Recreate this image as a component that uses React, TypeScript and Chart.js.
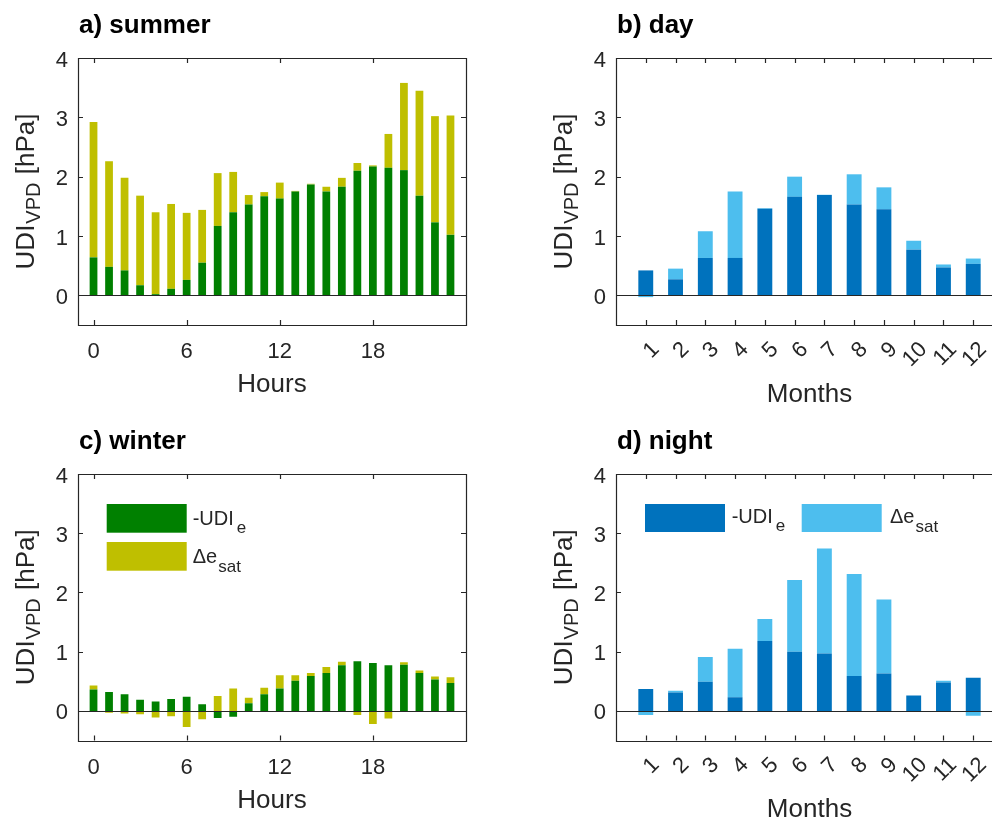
import React, { useEffect, useRef } from 'react';
import { Chart, registerables } from 'chart.js';

Chart.register(...registerables);

// ---------- data ----------
const hours = [0, 1, 2, 3, 4, 5, 6, 7, 8, 9, 10, 11, 12, 13, 14, 15, 16, 17, 18, 19, 20, 21, 22, 23];
const months = [1, 2, 3, 4, 5, 6, 7, 8, 9, 10, 11, 12];

const summerUDIe = [0.64, 0.48, 0.42, 0.17, 0.02, 0.11, 0.26, 0.55, 1.17, 1.40, 1.53, 1.67, 1.63, 1.75, 1.87, 1.75, 1.83, 2.10, 2.17, 2.15, 2.11, 1.68, 1.23, 1.02];
const summerDesat = [2.28, 1.78, 1.56, 1.51, 1.38, 1.43, 1.13, 0.89, 0.89, 0.68, 0.16, 0.07, 0.27, 0.01, 0.01, 0.08, 0.15, 0.13, 0.02, 0.57, 1.47, 1.77, 1.79, 2.01];

const winterUDIe = [0.36, 0.32, 0.28, 0.19, 0.16, 0.20, 0.24, 0.11, -0.12, -0.10, 0.13, 0.28, 0.38, 0.51, 0.59, 0.64, 0.77, 0.84, 0.81, 0.77, 0.78, 0.64, 0.53, 0.47];
const winterDesat = [0.07, -0.03, -0.045, -0.055, -0.11, -0.09, -0.27, -0.14, 0.25, 0.38, 0.09, 0.11, 0.22, 0.09, 0.05, 0.10, 0.06, -0.07, -0.22, -0.13, 0.04, 0.04, 0.05, 0.10];

const dayUDIe = [0.42, 0.27, 0.63, 0.63, 1.46, 1.66, 1.69, 1.53, 1.45, 0.77, 0.47, 0.53];
const dayDesat = [-0.03, 0.18, 0.45, 1.12, 0.01, 0.34, 0.005, 0.51, 0.37, 0.15, 0.05, 0.09];

const nightUDIe = [0.37, 0.31, 0.49, 0.23, 1.18, 1.00, 0.97, 0.59, 0.63, 0.26, 0.48, 0.56];
const nightDesat = [-0.07, 0.03, 0.42, 0.82, 0.37, 1.21, 1.77, 1.72, 1.25, 0.0, 0.03, -0.08];

const yTicks = [0, 1, 2, 3, 4];
const hourTicks = [0, 6, 12, 18];
const monthTicks = months;

// ---------- styling ----------
const FONT = "'Liberation Sans', Arial, Helvetica, sans-serif";
const AXIS = '#262626';
const GREEN = '#008000';
const OLIVE = '#bfbf00';
const DBLUE = '#0072bd';
const LBLUE = '#4dbeee';

type PanelCfg = {
  title: string;
  xs: number[];
  a: number[];
  b: number[];
  xMin: number;
  xMax: number;
  xTicks: number[];
  xTitle: string;
  rotated: boolean;
  c1: string;
  c2: string;
  legend: 'none' | 'vertical' | 'horizontal';
  pad: { left: number; right: number; top: number; bottom: number };
  w: number;
  h: number;
  pos: { left: number; top: number };
};

function drawSubText(ctx: CanvasRenderingContext2D, x: number, y: number, main: string, sub: string, mainSize: number, subSize: number, gap: number, subDrop: number) {
  ctx.font = `${mainSize}px ${FONT}`;
  ctx.textAlign = 'left';
  ctx.textBaseline = 'alphabetic';
  ctx.fillText(main, x, y);
  const w = ctx.measureText(main).width;
  ctx.font = `${subSize}px ${FONT}`;
  ctx.fillText(sub, x + w + gap, y + subDrop);
}

const panelPlugin = {
  id: 'panelDecor',
  afterDatasetsDraw(chart: any) {
    const cfg: PanelCfg = chart.options.plugins.panelDecor.cfg;
    const { ctx, chartArea: ca } = chart;
    const xs = chart.scales.x;
    const ys = chart.scales.y;
    ctx.save();
    ctx.strokeStyle = AXIS;
    ctx.fillStyle = AXIS;
    ctx.lineWidth = 1.2;

    // zero line
    const y0 = Math.round(ys.getPixelForValue(0)) + 0.5;
    ctx.beginPath();
    ctx.moveTo(ca.left, y0);
    ctx.lineTo(ca.right, y0);
    ctx.stroke();

    // box
    ctx.beginPath();
    ctx.rect(Math.round(ca.left) + 0.5, Math.round(ca.top) + 0.5, Math.round(ca.right - ca.left), Math.round(ca.bottom - ca.top));
    ctx.stroke();

    // inward ticks
    const tl = 5;
    ctx.beginPath();
    for (const t of yTicks) {
      const py = Math.round(ys.getPixelForValue(t)) + 0.5;
      ctx.moveTo(ca.left, py);
      ctx.lineTo(ca.left + tl, py);
      ctx.moveTo(ca.right, py);
      ctx.lineTo(ca.right - tl, py);
    }
    for (const t of cfg.xTicks) {
      const px = Math.round(xs.getPixelForValue(t)) + 0.5;
      ctx.moveTo(px, ca.top);
      ctx.lineTo(px, ca.top + tl);
      ctx.moveTo(px, ca.bottom);
      ctx.lineTo(px, ca.bottom - tl);
    }
    ctx.stroke();

    // y tick labels
    ctx.font = `22px ${FONT}`;
    ctx.textAlign = 'right';
    ctx.textBaseline = 'alphabetic';
    for (const t of yTicks) {
      const py = ys.getPixelForValue(t);
      ctx.fillText(String(t), ca.left - 10, py + 8.5);
    }

    // x tick labels
    for (const t of cfg.xTicks) {
      const px = xs.getPixelForValue(t);
      if (cfg.rotated) {
        ctx.save();
        ctx.translate(px + 10, ca.bottom + 21);
        ctx.rotate(-Math.PI / 4);
        ctx.textAlign = 'right';
        ctx.textBaseline = 'middle';
        ctx.fillText(String(t), 0, 0);
        ctx.restore();
      } else {
        ctx.textAlign = 'center';
        ctx.fillText(String(t), px, ca.bottom + 33);
      }
    }

    // x title
    ctx.font = `26px ${FONT}`;
    ctx.textAlign = 'center';
    ctx.fillText(cfg.xTitle, (ca.left + ca.right) / 2, ca.bottom + (cfg.rotated ? 76.5 : 67));

    // y title (rotated, with subscript)
    ctx.save();
    ctx.translate(ca.left - 44, (ca.top + ca.bottom) / 2);
    ctx.rotate(-Math.PI / 2);
    ctx.textBaseline = 'alphabetic';
    ctx.textAlign = 'left';
    ctx.font = `26px ${FONT}`;
    const w1 = ctx.measureText('UDI').width;
    const w3 = ctx.measureText(' [hPa]').width;
    ctx.font = `20px ${FONT}`;
    const w2 = ctx.measureText('VPD').width;
    const total = w1 + w2 + w3 + 2;
    let sx = -total / 2;
    ctx.font = `26px ${FONT}`;
    ctx.fillText('UDI', sx, 0);
    sx += w1 + 1;
    ctx.font = `20px ${FONT}`;
    ctx.fillText('VPD', sx, 6);
    sx += w2 + 1;
    ctx.font = `26px ${FONT}`;
    ctx.fillText(' [hPa]', sx, 0);
    ctx.restore();

    // panel title
    ctx.fillStyle = '#000000';
    ctx.font = `bold 26px ${FONT}`;
    ctx.textAlign = 'left';
    ctx.fillText(cfg.title, ca.left + 1, ca.top - 25);

    // legend
    ctx.fillStyle = AXIS;
    if (cfg.legend === 'vertical') {
      const lx = ca.left + 28.7;
      const ly = ca.top + 30;
      ctx.fillStyle = cfg.c1;
      ctx.fillRect(lx, ly, 80, 28.7);
      ctx.fillStyle = cfg.c2;
      ctx.fillRect(lx, ly + 38, 80, 28.7);
      ctx.fillStyle = AXIS;
      drawSubText(ctx, lx + 86, ly + 21, '-UDI', 'e', 20, 17, 3, 8);
      drawSubText(ctx, lx + 86, ly + 59, '\u0394e', 'sat', 20, 17, 1, 9);
    } else if (cfg.legend === 'horizontal') {
      const lx = ca.left + 29;
      const ly = ca.top + 30;
      ctx.fillStyle = cfg.c1;
      ctx.fillRect(lx, ly, 80, 28);
      ctx.fillStyle = cfg.c2;
      ctx.fillRect(lx + 156.7, ly, 80, 28);
      ctx.fillStyle = AXIS;
      drawSubText(ctx, lx + 86.7, ly + 19, '-UDI', 'e', 20, 17, 3, 8);
      drawSubText(ctx, lx + 245, ly + 19, '\u0394e', 'sat', 20, 17, 1, 9);
    }
    ctx.restore();
  },
};

function Panel({ cfg }: { cfg: PanelCfg }) {
  const ref = useRef<HTMLCanvasElement | null>(null);
  useEffect(() => {
    if (!ref.current) return;
    const mk = (vals: number[]) => cfg.xs.map((x, i) => ({ x, y: vals[i] }));
    const chart = new Chart(ref.current, {
      type: 'bar',
      data: {
        datasets: [
          { label: '-UDI_e', data: mk(cfg.a), backgroundColor: cfg.c1, borderWidth: 0, barPercentage: 0.5, categoryPercentage: 1 },
          { label: 'Δe_sat', data: mk(cfg.b), backgroundColor: cfg.c2, borderWidth: 0, barPercentage: 0.5, categoryPercentage: 1 },
        ],
      } as any,
      options: {
        responsive: false,
        animation: false,
        devicePixelRatio: 1,
        layout: { padding: cfg.pad },
        plugins: {
          legend: { display: false },
          title: { display: false },
          tooltip: { enabled: false },
          panelDecor: { cfg },
        } as any,
        scales: {
          x: { type: 'linear', display: false, min: cfg.xMin, max: cfg.xMax, stacked: true, offset: false },
          y: { type: 'linear', display: false, min: -0.5, max: 4, stacked: true },
        },
      },
      plugins: [panelPlugin],
    });
    return () => chart.destroy();
  }, [cfg]);
  return (
    <canvas
      ref={ref}
      width={cfg.w}
      height={cfg.h}
      style={{ position: 'absolute', left: cfg.pos.left, top: cfg.pos.top, width: cfg.w, height: cfg.h }}
    />
  );
}

const panels: PanelCfg[] = [
  {
    title: 'a) summer', xs: hours, a: summerUDIe, b: summerDesat, xMin: -1, xMax: 24, xTicks: hourTicks, xTitle: 'Hours', rotated: false,
    c1: GREEN, c2: OLIVE, legend: 'none',
    pad: { left: 78, right: 30, top: 58, bottom: 85 }, w: 496, h: 410, pos: { left: 0, top: 0 },
  },
  {
    title: 'b) day', xs: months, a: dayUDIe, b: dayDesat, xMin: 0, xMax: 13, xTicks: monthTicks, xTitle: 'Months', rotated: true,
    c1: DBLUE, c2: LBLUE, legend: 'none',
    pad: { left: 120, right: 23, top: 58, bottom: 85 }, w: 530, h: 410, pos: { left: 496, top: 0 },
  },
  {
    title: 'c) winter', xs: hours, a: winterUDIe, b: winterDesat, xMin: -1, xMax: 24, xTicks: hourTicks, xTitle: 'Hours', rotated: false,
    c1: GREEN, c2: OLIVE, legend: 'vertical',
    pad: { left: 78, right: 30, top: 64, bottom: 79.5 }, w: 496, h: 410, pos: { left: 0, top: 410 },
  },
  {
    title: 'd) night', xs: months, a: nightUDIe, b: nightDesat, xMin: 0, xMax: 13, xTicks: monthTicks, xTitle: 'Months', rotated: true,
    c1: DBLUE, c2: LBLUE, legend: 'horizontal',
    pad: { left: 120, right: 23, top: 64, bottom: 79.5 }, w: 530, h: 410, pos: { left: 496, top: 410 },
  },
];

export default function App() {
  return (
    <div style={{ position: 'fixed', left: 0, top: 0, width: 992, height: 820, overflow: 'hidden', background: '#ffffff' }}>
      {panels.map((p) => (
        <Panel key={p.title} cfg={p} />
      ))}
    </div>
  );
}
